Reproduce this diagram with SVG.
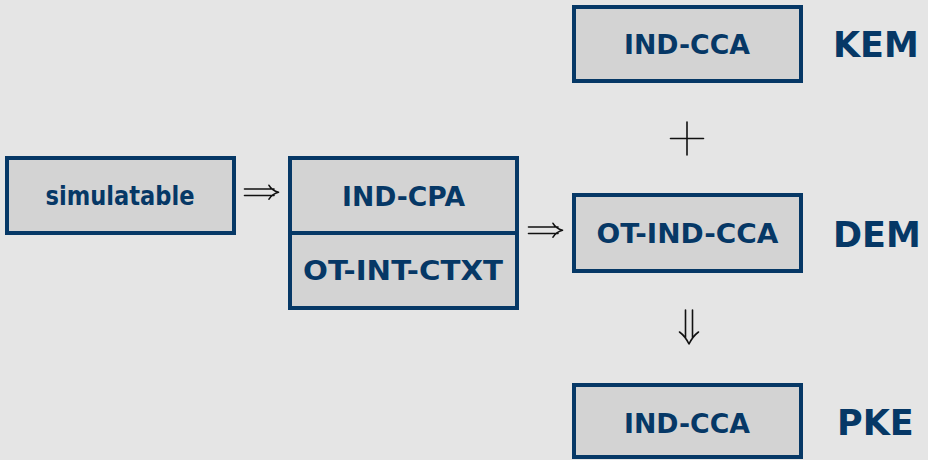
<svg xmlns="http://www.w3.org/2000/svg" width="928" height="460" viewBox="0 0 928 460">
<style>
.box{fill:#d3d3d3;stroke:#063866;stroke-width:4}
.t{font-family:"DejaVu Sans","Liberation Sans",sans-serif;font-weight:bold;font-size:26px;fill:#063866;text-anchor:middle}
.lbl{font-family:"DejaVu Sans","Liberation Sans",sans-serif;font-weight:bold;font-size:35px;fill:#063866}
.sym{fill:none;stroke:#111;stroke-width:1.6;stroke-linecap:round;stroke-linejoin:round}
</style>
<rect width="928" height="460" fill="#e5e5e5"/>
<g id="simulatable">
<rect class="box" x="7" y="158" width="227" height="75"/>
<text class="t" x="120" y="205" font-size="27" textLength="149" lengthAdjust="spacingAndGlyphs">simulatable</text>
</g>
<g id="ind-cpa">
<rect class="box" x="290" y="158" width="227" height="75"/>
<text class="t" x="403.5" y="206" textLength="123" lengthAdjust="spacingAndGlyphs">IND-CPA</text>
</g>
<g id="ot-int-ctxt">
<rect class="box" x="290" y="233" width="227" height="75"/>
<text class="t" x="403" y="280" textLength="200" lengthAdjust="spacingAndGlyphs">OT-INT-CTXT</text>
</g>
<g id="kem">
<rect class="box" x="574" y="7" width="227" height="74"/>
<text class="t" x="687" y="54" textLength="126" lengthAdjust="spacingAndGlyphs">IND-CCA</text>
<text class="lbl" x="833" y="57">KEM</text>
</g>
<g id="dem">
<rect class="box" x="574" y="195" width="227" height="76"/>
<text class="t" x="687.5" y="243" textLength="182" lengthAdjust="spacingAndGlyphs">OT-IND-CCA</text>
<text class="lbl" x="833" y="247">DEM</text>
</g>
<g id="pke">
<rect class="box" x="574" y="385" width="227" height="72"/>
<text class="t" x="687" y="433" textLength="126" lengthAdjust="spacingAndGlyphs">IND-CCA</text>
<text class="lbl" x="837" y="435">PKE</text>
</g>
<g id="connectors">
<path class="sym" d="M244.5,189 H274 M244.5,195.5 H274 M269,185.3 Q272,190.5 278.5,192.2 Q272,194 269,199.2"/>
<path class="sym" d="M528.5,227 H558 M528.5,233.5 H558 M553,223.3 Q556,228.5 562.5,230.2 Q556,232 553,237.2"/>
<path class="sym" d="M685.5,310 V338 M692.5,310 V338 M679.5,332 Q685,336 689,344 Q693,336 698.5,332"/>
<path class="sym" d="M670.5,138.5 H703.5 M687,122 V155"/>
</g>
</svg>
